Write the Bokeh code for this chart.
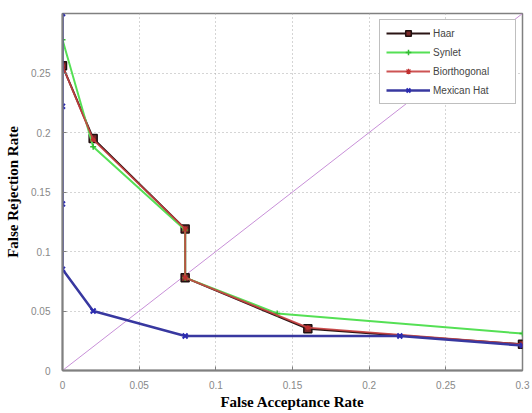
from bokeh.plotting import figure
from bokeh.models import FixedTicker, CustomJSTickFormatter, Legend, LegendItem, Range1d
from bokeh.embed import file_html
from bokeh.resources import INLINE

# ---- data ----
haar_far = [0.0, 0.02, 0.08, 0.08, 0.16, 0.3]
haar_frr = [0.256, 0.195, 0.119, 0.078, 0.035, 0.022]
sym_far = [0.0, 0.02, 0.08, 0.08, 0.14, 0.3]
sym_frr = [0.278, 0.188, 0.118, 0.078, 0.048, 0.031]
bio_far = [0.0, 0.02, 0.08, 0.08, 0.16, 0.3]
bio_frr = [0.256, 0.194, 0.119, 0.078, 0.036, 0.022]
mex_far = [0.0, 0.0, 0.0, 0.0, 0.02, 0.08, 0.22, 0.3]
mex_frr = [0.3, 0.222, 0.14, 0.085, 0.05, 0.029, 0.029, 0.021]
eer_x = [0.0, 0.3]
eer_y = [0.0, 0.3]
x_ticks = [0, 0.05, 0.1, 0.15, 0.2, 0.25, 0.3]
y_ticks = [0, 0.05, 0.1, 0.15, 0.2, 0.25]
series_names = ["Haar", "Synlet", "Biorthogonal", "Mexican Hat"]

p = figure(width=530, height=412, output_backend="svg", toolbar_location=None,
           x_range=Range1d(0, 0.3), y_range=Range1d(0, 0.3),
           min_border_left=62, min_border_right=8, min_border_top=13, min_border_bottom=38,
           background_fill_color="white", border_fill_color="white")

p.outline_line_color = "#808080"
p.outline_line_width = 1.5

fmt = CustomJSTickFormatter(code="return String(Math.round(tick*100)/100);")
for ax, ticks in ((p.xaxis[0], x_ticks), (p.yaxis[0], y_ticks)):
    ax.ticker = FixedTicker(ticks=ticks)
    ax.formatter = fmt
    ax.major_tick_in = 4
    ax.major_tick_out = 0
    ax.minor_tick_in = 0
    ax.minor_tick_out = 0
    ax.axis_line_color = "#808080"
    ax.axis_line_width = 2
    ax.major_tick_line_color = "#808080"
    ax.major_label_text_color = "#888888"
    ax.major_label_text_font = "Liberation Sans"
    ax.major_label_text_font_size = "10px"
    ax.axis_label_text_font = "Liberation Serif"
    ax.axis_label_text_font_style = "bold"
    ax.axis_label_text_font_size = "15px"
    ax.axis_label_text_color = "black"

p.xaxis.axis_label = "False Acceptance Rate"
p.yaxis.axis_label = "False Rejection Rate"
p.xaxis.major_label_standoff = 10
p.xaxis.axis_label_standoff = 2
p.yaxis.major_label_standoff = 12
p.yaxis.axis_label_standoff = 7

p.grid.grid_line_color = "#aaaaaa"
p.grid.grid_line_dash = "1 3"
p.grid.grid_line_width = 1
p.xgrid.ticker = FixedTicker(ticks=x_ticks)
p.ygrid.ticker = FixedTicker(ticks=y_ticks)

# equal error diagonal
p.line(eer_x, eer_y, line_color="#c890d8", line_width=1)

haar_l = p.line(haar_far, haar_frr, line_color="#2a1414", line_width=2)
haar_m = p.scatter(haar_far, haar_frr, marker="square", size=8, line_color="#201010",
                   fill_color="#7a2828", line_width=1.5)
sym_l = p.line(sym_far, sym_frr, line_color="#55e055", line_width=2)
sym_m = p.scatter(sym_far, sym_frr, marker="cross", size=6, line_color="#33bb33", line_width=1.5)
bio_l = p.line(bio_far, bio_frr, line_color="#c84040", line_width=1.8, line_alpha=0.9)
bio_m = p.scatter(bio_far, bio_frr, marker="asterisk", size=5, line_color="#c03030", line_width=1.2)
mex_l = p.line(mex_far, mex_frr, line_color="#3838a0", line_width=2.5)
mex_m = p.scatter(mex_far, mex_frr, marker="x", size=7, line_color="#2a2ab0", line_width=2)

legend = Legend(items=[
    LegendItem(label=series_names[0], renderers=[haar_l, haar_m]),
    LegendItem(label=series_names[1], renderers=[sym_l, sym_m]),
    LegendItem(label=series_names[2], renderers=[bio_l, bio_m]),
    LegendItem(label=series_names[3], renderers=[mex_l, mex_m]),
], location="top_right")
legend.margin = 6
legend.padding = 6
legend.spacing = 5
legend.glyph_width = 44
legend.glyph_height = 14
legend.label_height = 14
legend.label_width = 76
legend.label_standoff = 3
legend.label_text_font = "Liberation Sans"
legend.label_text_font_size = "10px"
legend.label_text_color = "#444444"
legend.border_line_color = "#808080"
legend.border_line_width = 1.5
legend.background_fill_color = "white"
legend.background_fill_alpha = 1
p.add_layout(legend)

open("out.html", "w").write(file_html(p, INLINE))
